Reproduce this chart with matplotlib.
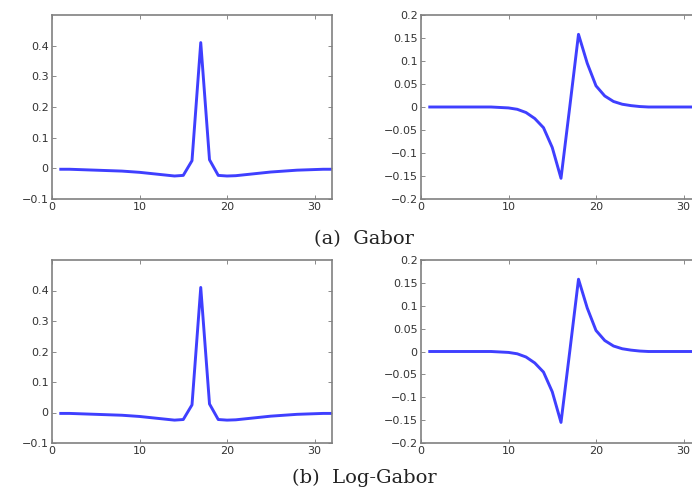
import matplotlib
matplotlib.use("Agg")
import matplotlib.pyplot as plt
import numpy as np

# sample index 1..32
x = np.arange(1, 33)

# even (symmetric) filter response, peak at 17
gabor_even = [-0.003, -0.003, -0.004, -0.005, -0.006, -0.007, -0.008, -0.009,
              -0.011, -0.013, -0.016, -0.019, -0.022, -0.025, -0.023, 0.025,
              0.41, 0.028, -0.023, -0.025, -0.024, -0.021, -0.018, -0.015,
              -0.012, -0.010, -0.008, -0.006, -0.005, -0.004, -0.003, -0.003]
# odd (antisymmetric) filter response
gabor_odd = [0.0, 0.0, 0.0, 0.0, 0.0, 0.0, 0.0, 0.0,
             -0.001, -0.002, -0.005, -0.012, -0.025, -0.045, -0.088, -0.155,
             0.0, 0.158, 0.095, 0.046, 0.024, 0.012, 0.006, 0.003,
             0.001, 0.0, 0.0, 0.0, 0.0, 0.0, 0.0, 0.0]

loggabor_even = [-0.003, -0.003, -0.004, -0.005, -0.006, -0.007, -0.008, -0.009,
                 -0.011, -0.013, -0.016, -0.019, -0.022, -0.025, -0.023, 0.025,
                 0.41, 0.028, -0.023, -0.025, -0.024, -0.021, -0.018, -0.015,
                 -0.012, -0.010, -0.008, -0.006, -0.005, -0.004, -0.003, -0.003]
loggabor_odd = [0.0, 0.0, 0.0, 0.0, 0.0, 0.0, 0.0, 0.0,
                -0.001, -0.002, -0.005, -0.012, -0.025, -0.045, -0.088, -0.155,
                0.0, 0.158, 0.095, 0.046, 0.024, 0.012, 0.006, 0.003,
                0.001, 0.0, 0.0, 0.0, 0.0, 0.0, 0.0, 0.0]

even_ticks = [-0.1, 0, 0.1, 0.2, 0.3, 0.4]
odd_ticks = [-0.2, -0.15, -0.1, -0.05, 0, 0.05, 0.1, 0.15, 0.2]
x_ticks = [0, 10, 20, 30]

captions = ["(a)  Gabor", "(b)  Log-Gabor"]

line_color = "#3f3fff"
tick_font = ["DejaVu Sans"]
W, H = 692, 490


def fmt(v):
    s = "%g" % v
    return s.replace("-", "\u2212")


def style_axes(ax, ylim, yticks):
    ax.set_xlim(0, 32)
    ax.set_ylim(*ylim)
    ax.set_xticks(x_ticks)
    ax.set_yticks(yticks)
    ax.set_xticklabels([fmt(t) for t in x_ticks], family=tick_font, fontsize=8, color="#333333")
    ax.set_yticklabels([fmt(t) for t in yticks], family=tick_font, fontsize=8, color="#333333")
    ax.tick_params(direction="in", length=3, width=0.6, color="#777777",
                   top=True, right=True, pad=2.5)
    for sp in ax.spines.values():
        sp.set_color("#808080")
        sp.set_linewidth(1.2)


def add_axes(left, top, width, height):
    return fig.add_axes([left / W, 1 - (top + height) / H, width / W, height / H])


fig = plt.figure(figsize=(W / 100, H / 100), dpi=100)
fig.patch.set_facecolor("white")

rows = [(15, 184, gabor_even, gabor_odd, 239),
        (260, 183, loggabor_even, loggabor_odd, 478)]

for i, (top, h, even, odd, cap_y) in enumerate(rows):
    ax1 = add_axes(52, top, 280, h)
    ax1.plot(x, even, color=line_color, lw=2.1)
    style_axes(ax1, (-0.1, 0.5), even_ticks)

    ax2 = add_axes(421, top, 280, h)
    ax2.plot(x, odd, color=line_color, lw=2.1)
    style_axes(ax2, (-0.2, 0.2), odd_ticks)

    fig.text(364 / W, 1 - cap_y / H, captions[i], ha="center", va="center",
             family=["DejaVu Serif"], fontsize=14, color="#222222")

fig.savefig("out.png", dpi=100)
